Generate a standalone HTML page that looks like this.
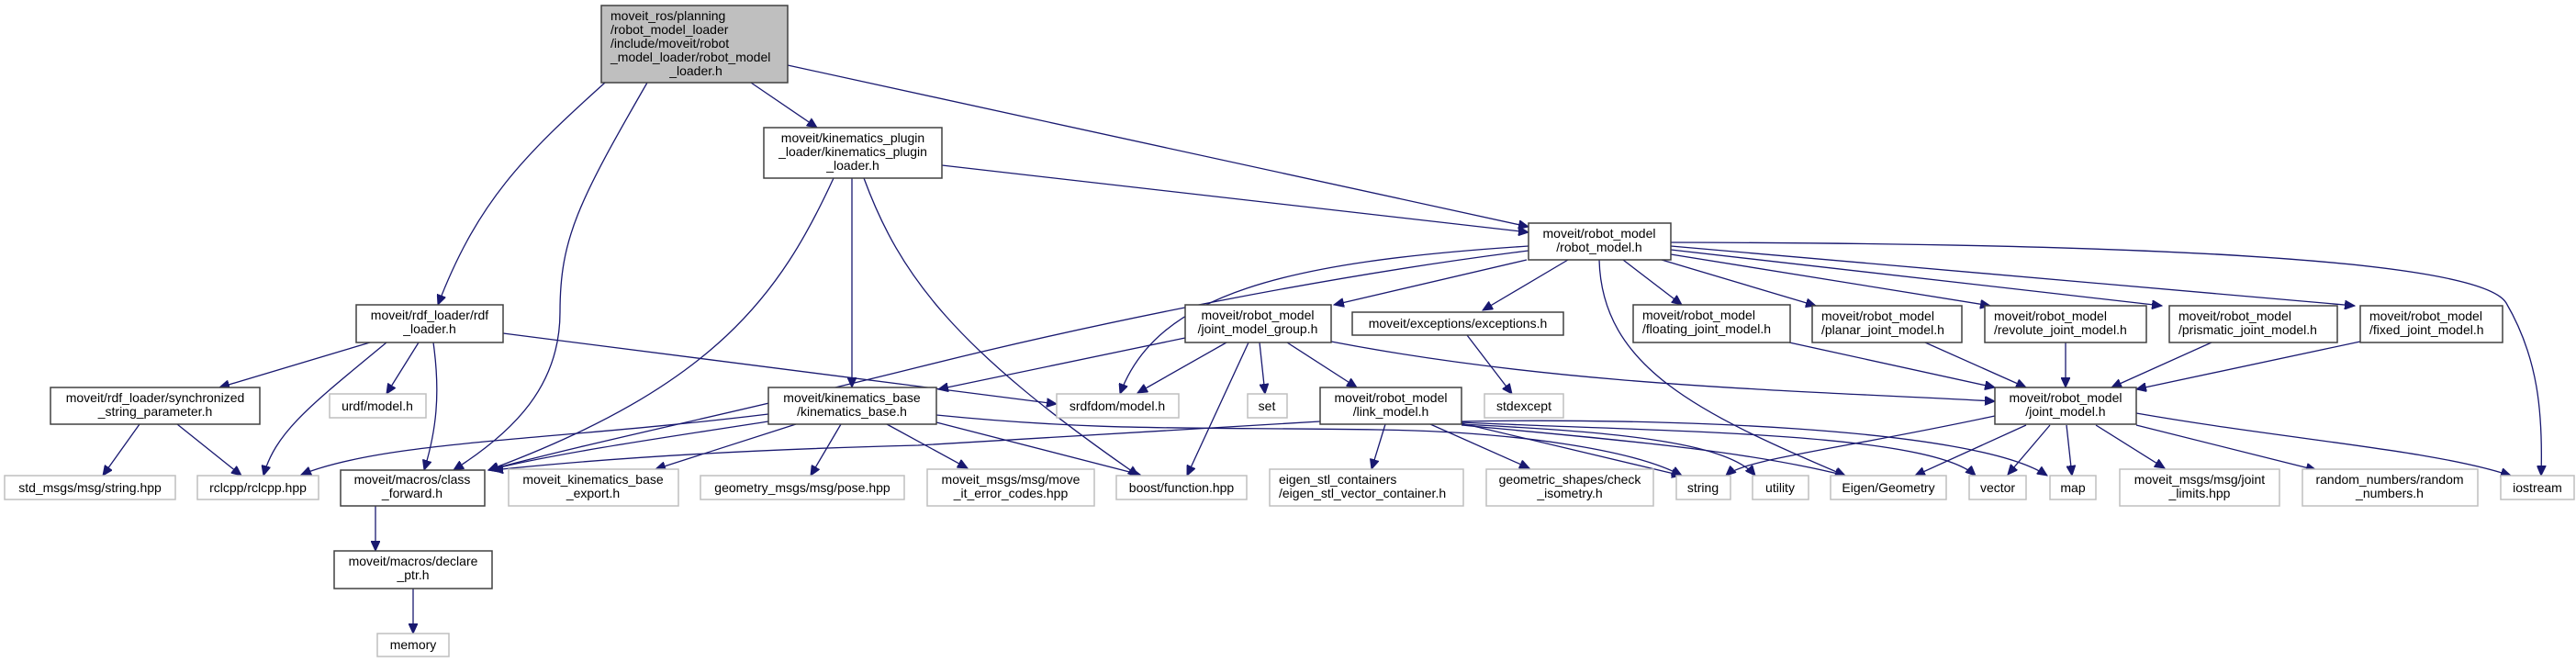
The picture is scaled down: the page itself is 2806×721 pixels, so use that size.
<!DOCTYPE html>
<html><head><meta charset="utf-8"><style>
html,body{margin:0;padding:0;background:#fff;}
svg{display:block;}
text{font-family:"Liberation Sans",sans-serif;font-size:14px;fill:#000;}
.b{fill:#fff;stroke:#404040;stroke-width:1.5;}
.g{fill:#fff;stroke:#bfbfbf;stroke-width:1.5;}
.r{fill:#bfbfbf;stroke:#404040;stroke-width:1.5;}
path{fill:none;stroke:#191970;stroke-width:1.3;}
</style></head><body>
<svg width="2806" height="721" viewBox="0 0 2806 721" xmlns="http://www.w3.org/2000/svg">
<defs><marker id="a" markerUnits="userSpaceOnUse" markerWidth="12" markerHeight="10" refX="11" refY="5" orient="auto"><polygon points="0,0 11,5 0,10" fill="#191970" stroke="#191970"/></marker></defs>
<g marker-end="url(#a)">
<path d="M659,90 C570,170 520,220 477,332"/>
<path d="M705,90 C630,220 610,260 610,340 C610,420 560,470 494,512"/>
<path d="M818,90 L890,139"/>
<path d="M858,71 L1665,247"/>
<path d="M1026,180 L1665,253"/>
<path d="M928,194 L928,422"/>
<path d="M908,194 C850,320 780,420 532,512"/>
<path d="M941,194 C980,300 1040,380 1240,518"/>
<path d="M403,373 L239,422"/>
<path d="M421,373 C340,440 300,470 287,518"/>
<path d="M456,373 L421,429"/>
<path d="M472,373 C480,430 475,470 462,512"/>
<path d="M548,363 L1151,440"/>
<path d="M152,462 L112,518"/>
<path d="M193,462 L263,518"/>
<path d="M837,451 C600,480 420,480 328,517"/>
<path d="M837,459 C700,480 600,495 532,512"/>
<path d="M867,462 L714,511"/>
<path d="M916,462 L883,518"/>
<path d="M966,462 L1054,510"/>
<path d="M1020,460 L1242,517"/>
<path d="M1020,452 C1200,470 1300,465 1500,468 C1650,470 1780,490 1832,518"/>
<path d="M1438,459 C1250,470 1100,480 1000,485 C800,490 650,500 537,512"/>
<path d="M1665,268 C1400,285 1260,320 1220,429"/>
<path d="M1665,273 C1450,300 1200,350 1000,400 C800,450 650,480 532,512"/>
<path d="M1663,283 L1453,332"/>
<path d="M1708,283 L1615,338"/>
<path d="M1742,283 C1745,400 1850,450 2010,518"/>
<path d="M1768,283 L1832,332"/>
<path d="M1810,283 L1978,333"/>
<path d="M1820,277 L2168,333"/>
<path d="M1820,272 L2355,333"/>
<path d="M1820,268 L2565,333"/>
<path d="M1820,264 C2300,265 2700,280 2730,330 C2765,390 2770,450 2768,518"/>
<path d="M1291,368 L1022,424"/>
<path d="M1336,373 L1239,428"/>
<path d="M1360,373 L1293,518"/>
<path d="M1372,373 L1378,429"/>
<path d="M1402,373 L1478,422"/>
<path d="M1450,372 C1700,420 1950,425 2173,437"/>
<path d="M1598,365 L1647,429"/>
<path d="M1509,462 L1494,511"/>
<path d="M1558,462 L1666,510"/>
<path d="M1592,461 L1832,518"/>
<path d="M1592,462 C1750,470 1880,480 1912,518"/>
<path d="M1592,463 C1750,478 1900,490 2010,518"/>
<path d="M1592,460 C1800,470 2100,470 2152,518"/>
<path d="M1592,459 C1800,455 2150,465 2230,518"/>
<path d="M1949,373 L2173,422"/>
<path d="M2097,373 L2207,422"/>
<path d="M2250,373 L2250,422"/>
<path d="M2409,373 L2300,422"/>
<path d="M2571,372 L2327,424"/>
<path d="M2173,453 C2000,490 1900,500 1880,518"/>
<path d="M2207,463 L2086,518"/>
<path d="M2233,463 L2187,517"/>
<path d="M2251,463 L2257,518"/>
<path d="M2283,463 L2358,510"/>
<path d="M2327,463 L2523,512"/>
<path d="M2327,450 C2500,480 2650,490 2735,518"/>
<path d="M409,551 L409,600"/>
<path d="M450,641 L450,690"/>
</g>
<!-- nodes -->
<rect class="r" x="655" y="6" width="203" height="84"/>
<text x="665" y="22">moveit_ros/planning</text><text x="665" y="37">/robot_model_loader</text><text x="665" y="52">/include/moveit/robot</text><text x="665" y="67">_model_loader/robot_model</text><text x="758" y="82" text-anchor="middle">_loader.h</text>

<rect class="b" x="832" y="139" width="194" height="55"/>
<g text-anchor="middle"><text x="929" y="155">moveit/kinematics_plugin</text><text x="929" y="170">_loader/kinematics_plugin</text><text x="929" y="185">_loader.h</text></g>

<rect class="b" x="388" y="332" width="160" height="41"/>
<g text-anchor="middle"><text x="468" y="348">moveit/rdf_loader/rdf</text><text x="468" y="363">_loader.h</text></g>

<rect class="b" x="55" y="422" width="228" height="40"/>
<g text-anchor="middle"><text x="169" y="438">moveit/rdf_loader/synchronized</text><text x="169" y="453">_string_parameter.h</text></g>

<rect class="g" x="359" y="429" width="105" height="26"/><text x="411" y="447" text-anchor="middle">urdf/model.h</text>
<rect class="g" x="5" y="518" width="186" height="26"/><text x="98" y="536" text-anchor="middle">std_msgs/msg/string.hpp</text>
<rect class="g" x="215" y="518" width="132" height="26"/><text x="281" y="536" text-anchor="middle">rclcpp/rclcpp.hpp</text>

<rect class="b" x="371" y="512" width="157" height="39"/>
<g text-anchor="middle"><text x="449" y="527">moveit/macros/class</text><text x="449" y="542">_forward.h</text></g>

<rect class="g" x="554" y="511" width="185" height="40"/>
<g text-anchor="middle"><text x="646" y="527">moveit_kinematics_base</text><text x="646" y="542">_export.h</text></g>

<rect class="g" x="763" y="518" width="222" height="26"/><text x="874" y="536" text-anchor="middle">geometry_msgs/msg/pose.hpp</text>

<rect class="b" x="837" y="422" width="183" height="40"/>
<g text-anchor="middle"><text x="928" y="438">moveit/kinematics_base</text><text x="928" y="453">/kinematics_base.h</text></g>

<rect class="b" x="364" y="600" width="172" height="41"/>
<g text-anchor="middle"><text x="450" y="616">moveit/macros/declare</text><text x="450" y="631">_ptr.h</text></g>

<rect class="g" x="411" y="690" width="78" height="25"/><text x="450" y="707" text-anchor="middle">memory</text>

<rect class="b" x="1665" y="243" width="155" height="40"/>
<g text-anchor="middle"><text x="1742" y="259">moveit/robot_model</text><text x="1742" y="274">/robot_model.h</text></g>

<rect class="b" x="1291" y="332" width="159" height="41"/>
<g text-anchor="middle"><text x="1370" y="348">moveit/robot_model</text><text x="1370" y="363">/joint_model_group.h</text></g>

<rect class="b" x="1473" y="340" width="230" height="25"/><text x="1588" y="357" text-anchor="middle">moveit/exceptions/exceptions.h</text>

<rect class="b" x="1779" y="332" width="171" height="41"/>
<text x="1789" y="348">moveit/robot_model</text><text x="1789" y="363">/floating_joint_model.h</text>
<rect class="b" x="1974" y="333" width="163" height="40"/>
<text x="1984" y="349">moveit/robot_model</text><text x="1984" y="364">/planar_joint_model.h</text>
<rect class="b" x="2162" y="333" width="176" height="40"/>
<text x="2172" y="349">moveit/robot_model</text><text x="2172" y="364">/revolute_joint_model.h</text>
<rect class="b" x="2363" y="333" width="183" height="40"/>
<text x="2373" y="349">moveit/robot_model</text><text x="2373" y="364">/prismatic_joint_model.h</text>
<rect class="b" x="2571" y="333" width="155" height="40"/>
<text x="2581" y="349">moveit/robot_model</text><text x="2581" y="364">/fixed_joint_model.h</text>

<rect class="b" x="2173" y="422" width="154" height="40"/>
<g text-anchor="middle"><text x="2250" y="438">moveit/robot_model</text><text x="2250" y="453">/joint_model.h</text></g>

<rect class="g" x="1151" y="429" width="133" height="26"/><text x="1217" y="447" text-anchor="middle">srdfdom/model.h</text>
<rect class="g" x="1359" y="429" width="43" height="26"/><text x="1380" y="447" text-anchor="middle">set</text>
<rect class="b" x="1438" y="422" width="154" height="40"/>
<g text-anchor="middle"><text x="1515" y="438">moveit/robot_model</text><text x="1515" y="453">/link_model.h</text></g>
<rect class="g" x="1617" y="429" width="86" height="26"/><text x="1660" y="447" text-anchor="middle">stdexcept</text>

<rect class="g" x="1010" y="511" width="182" height="40"/>
<g text-anchor="middle"><text x="1101" y="527">moveit_msgs/msg/move</text><text x="1101" y="542">_it_error_codes.hpp</text></g>
<rect class="g" x="1216" y="518" width="142" height="26"/><text x="1287" y="536" text-anchor="middle">boost/function.hpp</text>
<rect class="g" x="1383" y="511" width="211" height="40"/>
<text x="1393" y="527">eigen_stl_containers</text><text x="1393" y="542">/eigen_stl_vector_container.h</text>
<rect class="g" x="1619" y="511" width="182" height="40"/>
<g text-anchor="middle"><text x="1710" y="527">geometric_shapes/check</text><text x="1710" y="542">_isometry.h</text></g>
<rect class="g" x="1826" y="518" width="59" height="26"/><text x="1855" y="536" text-anchor="middle">string</text>
<rect class="g" x="1909" y="518" width="61" height="26"/><text x="1939" y="536" text-anchor="middle">utility</text>
<rect class="g" x="1994" y="518" width="126" height="26"/><text x="2057" y="536" text-anchor="middle">Eigen/Geometry</text>
<rect class="g" x="2145" y="518" width="62" height="26"/><text x="2176" y="536" text-anchor="middle">vector</text>
<rect class="g" x="2233" y="518" width="50" height="26"/><text x="2258" y="536" text-anchor="middle">map</text>
<rect class="g" x="2309" y="511" width="174" height="40"/>
<g text-anchor="middle"><text x="2396" y="527">moveit_msgs/msg/joint</text><text x="2396" y="542">_limits.hpp</text></g>
<rect class="g" x="2508" y="511" width="191" height="40"/>
<g text-anchor="middle"><text x="2603" y="527">random_numbers/random</text><text x="2603" y="542">_numbers.h</text></g>
<rect class="g" x="2724" y="518" width="80" height="26"/><text x="2764" y="536" text-anchor="middle">iostream</text>
</svg>
</body></html>
